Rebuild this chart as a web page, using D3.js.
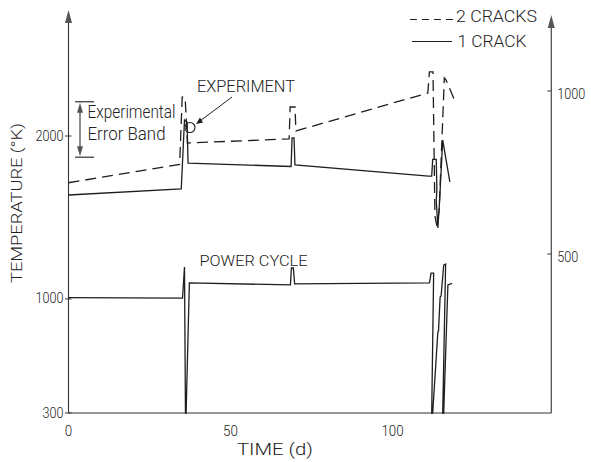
<!DOCTYPE html>
<html>
<head>
<meta charset="utf-8">
<script src="https://cdn.jsdelivr.net/npm/d3@7.9.0/dist/d3.min.js"></script>
<style>
  body { margin: 0; background: #fff; }
  svg { display: block; }
  text { font-family: Roboto, "Liberation Sans", Arial, sans-serif; font-weight: 300; fill: #222; }
</style>
</head>
<body>
<svg id="chart" width="591" height="462"></svg>
<script>
// time in days, temperature in K
const powerTime = [0, 35.2, 35.8, 36.1, 36.3, 37.3, 68.5, 68.8, 69.4, 69.8, 111.4, 111.9, 112.7, 112.1, 112.4, 114.0, 114.2, 114.7, 115.0, 115.8, 116.4, 115.5, 115.8, 117.1, 118.4];
const powerTemp = [1008, 1005, 1196, 300, 300, 1098, 1086, 1190, 1190, 1092, 1098, 1159, 1159, 300, 300, 797, 803, 1012, 1018, 1208, 1214, 300, 300, 1086, 1095];

const oneCrackTime = [0, 34.8, 35.8, 36.6, 36.9, 68.7, 69.0, 69.6, 69.9, 111.1, 112.1, 112.4, 113.5, 113.7, 113.5, 114.0, 114.5, 115.5, 117.7];
const oneCrackTemp = [1638, 1675, 2098, 2086, 1834, 1813, 1988, 1988, 1822, 1754, 1754, 1856, 1856, 1669, 1607, 1435, 1589, 1975, 1718];

const twoCrackTime = [0, 34.3, 35.1, 36.0, 36.7, 68.1, 68.4, 69.9, 70.2, 110.9, 111.4, 112.5, 113.1, 113.7, 114.4, 116.0, 116.5, 119.0];
const twoCrackTemp = [1713, 1826, 2239, 2236, 1957, 1982, 2178, 2178, 2031, 2264, 2393, 2393, 1509, 1448, 1546, 2356, 2344, 2227];

const xTicks = [0, 50, 100];
const leftTicks = [300, 1000, 2000];
const rightTicks = [500, 1000];
const errorBand = [1870, 2210];
const experimentPoint = { t: 37.5, temp: 2052 };

const svg = d3.select('#chart');
const ink = '#1e1e1e';

const x = d3.scaleLinear().domain([0, 100]).range([68.5, 392.5]);
const y = d3.scaleLinear().domain([300, 2000]).range([413, 136]);
const yRight = d3.scaleLinear().domain([0, 1000]).range([417, 91]);
const xEnd = x(149);

// helper for text squeezed to the width seen in the scan
function label(txt, px, py, size, width, anchor = 'start') {
    return svg.append('text')
        .attr('x', px).attr('y', py)
        .attr('font-size', size)
        .attr('text-anchor', anchor)
        .attr('textLength', width)
        .attr('lengthAdjust', 'spacingAndGlyphs')
        .text(txt);
}

function arrowHead(px, py, dir, w = 7, h = 13) {
    // dir: -1 points up, 1 points down
    svg.append('path')
        .attr('d', `M${px},${py} L${px - w / 2},${py - dir * h} L${px + w / 2},${py - dir * h} Z`)
        .attr('fill', '#555');
}

// axes
svg.append('line')
    .attr('x1', x(0)).attr('x2', xEnd)
    .attr('y1', y(300)).attr('y2', y(300))
    .attr('stroke', '#333').attr('stroke-width', 1.2);
svg.append('line')
    .attr('x1', x(0)).attr('x2', x(0))
    .attr('y1', y(300)).attr('y2', 14)
    .attr('stroke', '#333').attr('stroke-width', 1.1);
arrowHead(x(0), 10, -1);
svg.append('line')
    .attr('x1', xEnd).attr('x2', xEnd)
    .attr('y1', y(300)).attr('y2', 19)
    .attr('stroke', '#333').attr('stroke-width', 1.1);
arrowHead(xEnd, 15, -1);

// left ticks
leftTicks.forEach((v) => {
    svg.append('line')
        .attr('x1', x(0) - 3.5).attr('x2', x(0) + 3)
        .attr('y1', y(v)).attr('y2', y(v))
        .attr('stroke', '#333');
    label(String(v), x(0) - 5, y(v) + 4.5, 15, String(v).length * 7, 'end');
});

// right ticks
rightTicks.forEach((v) => {
    svg.append('line')
        .attr('x1', xEnd - 4).attr('x2', xEnd)
        .attr('y1', yRight(v)).attr('y2', yRight(v))
        .attr('stroke', '#333');
    label(String(v), xEnd + 6, yRight(v) + 8, 15, String(v).length * 7);
});

// x tick labels
xTicks.forEach((v) => {
    label(String(v), x(v), 436, 15, String(v).length * 7.4, 'middle');
});

// axis titles
label('TIME (d)', 275, 455, 16, 76, 'middle');
svg.append('text')
    .attr('transform', `translate(21.5,${203}) rotate(-90)`)
    .attr('font-size', 14)
    .attr('text-anchor', 'middle')
    .attr('textLength', 160)
    .attr('lengthAdjust', 'spacingAndGlyphs')
    .text('TEMPERATURE (°K)');

// curves
const line = d3.line().x((d) => x(d[0])).y((d) => y(d[1]));

const power = d3.zip(powerTime, powerTemp);
const oneCrack = d3.zip(oneCrackTime, oneCrackTemp);
const twoCrack = d3.zip(twoCrackTime, twoCrackTemp);

svg.append('path').datum(power)
    .attr('d', line).attr('fill', 'none')
    .attr('stroke', ink).attr('stroke-width', 1.3);
svg.append('path').datum(oneCrack)
    .attr('d', line).attr('fill', 'none')
    .attr('stroke', ink).attr('stroke-width', 1.3);
svg.append('path').datum(twoCrack)
    .attr('d', line).attr('fill', 'none')
    .attr('stroke', ink).attr('stroke-width', 1.3)
    .attr('stroke-dasharray', '11,6');

// experiment marker + arrow
const ex = x(experimentPoint.t), ey = y(experimentPoint.temp);
svg.append('circle')
    .attr('cx', ex).attr('cy', ey).attr('r', 5)
    .attr('fill', 'none').attr('stroke', ink).attr('stroke-width', 1.1);
svg.append('line')
    .attr('x1', 232).attr('y1', 97).attr('x2', ex + 8).attr('y2', ey - 5)
    .attr('stroke', ink).attr('stroke-width', 1);
svg.append('path')
    .attr('d', `M${ex + 6},${ey - 3.5} L${ex + 13},${ey - 5} L${ex + 10},${ey - 10} Z`)
    .attr('fill', ink);
label('EXPERIMENT', 197, 91.5, 16, 98);

// experimental error band
const bandX = 80;
[errorBand[0], errorBand[1]].forEach((v) => {
    svg.append('line')
        .attr('x1', 75).attr('x2', 94)
        .attr('y1', y(v)).attr('y2', y(v))
        .attr('stroke', ink).attr('stroke-width', 1.1);
});
svg.append('line')
    .attr('x1', bandX).attr('x2', bandX)
    .attr('y1', y(errorBand[1]) + 8).attr('y2', y(errorBand[0]) - 8)
    .attr('stroke', ink).attr('stroke-width', 1);
arrowHead(bandX, y(errorBand[1]) + 1, -1, 6, 10);
arrowHead(bandX, y(errorBand[0]) - 1, 1, 6, 10);
label('Experimental', 87.5, 118, 18, 88);
label('Error Band', 87.5, 140, 18, 78);

label('POWER CYCLE', 199.5, 266, 15.5, 108);

// legend
svg.append('line')
    .attr('x1', 410).attr('x2', 454)
    .attr('y1', 19.5).attr('y2', 19.5)
    .attr('stroke', ink).attr('stroke-width', 1.2)
    .attr('stroke-dasharray', '7,5');
label('2 CRACKS', 456, 21.5, 16, 81);
svg.append('line')
    .attr('x1', 412).attr('x2', 452)
    .attr('y1', 41.5).attr('y2', 41.5)
    .attr('stroke', ink).attr('stroke-width', 1.2);
label('1 CRACK', 457.5, 46.5, 16, 69);
</script>
</body>
</html>
